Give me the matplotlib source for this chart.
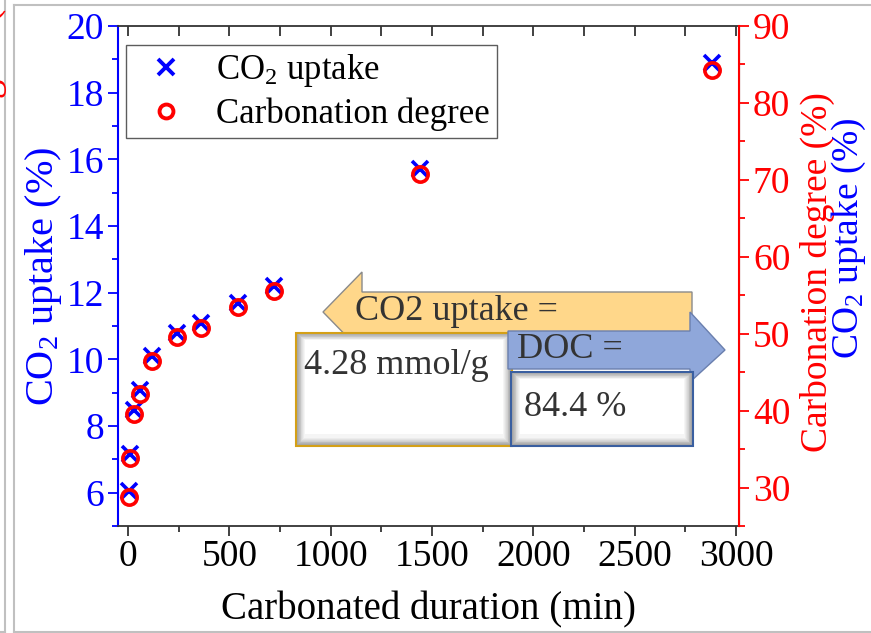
import matplotlib
matplotlib.use("Agg")
import matplotlib.pyplot as plt
from matplotlib.lines import Line2D
from matplotlib.patches import Polygon
import numpy as np

# ---- data ----
duration_min = [5, 10, 30, 60, 120, 240, 360, 540, 720, 1440, 2880]
co2_uptake = [6.05, 7.15, 8.47, 9.07, 10.1, 10.78, 11.08, 11.7, 12.2, 15.7, 18.9]
carb_degree = [28.8, 33.9, 39.6, 42.2, 46.5, 49.6, 50.8, 53.5, 55.6, 70.7, 84.3]

W, H = 871, 633
plt.rcParams['font.family'] = ['Liberation Serif', 'DejaVu Serif']
plt.rcParams['mathtext.fontset'] = 'custom'
plt.rcParams['mathtext.rm'] = 'Liberation Serif'
plt.rcParams['mathtext.it'] = 'Liberation Serif:italic'

fig = plt.figure(figsize=(W / 100, H / 100), dpi=100)
L, R, T, B = 118, 739, 26, 526
ax = fig.add_axes([L / W, 1 - B / H, (R - L) / W, (B - T) / H])
ax2 = ax.twinx()

BLUE = '#0000FF'
RED = '#FF0000'
TFS = 27
LFS = 28
RFS = 27

ax.plot(duration_min, co2_uptake, linestyle='none', marker='x', ms=11, mew=2.6,
        color=BLUE, zorder=3)
ax2.plot(duration_min, carb_degree, linestyle='none', marker='o', ms=11, mew=2.6,
         mfc='none', mec=RED, zorder=4)

ax.set_xlim(-50, 3015)
ax.set_ylim(5, 20)
ax2.set_ylim(25, 90)

ax.set_xticks(np.arange(0, 3001, 500))
ax.set_xticks(np.arange(0, 3001, 250), minor=True)
ax.set_yticks(np.arange(6, 21, 2))
ax.set_yticks(np.arange(5, 21, 1), minor=True)
ax2.set_yticks(np.arange(30, 91, 10))
ax2.set_yticks(np.arange(25, 91, 5), minor=True)

for sp in ['top', 'bottom']:
    ax.spines[sp].set_color('#333333')
    ax.spines[sp].set_linewidth(1.3)
ax.spines['left'].set_color(BLUE)
ax.spines['left'].set_linewidth(1.5)
ax2.spines['right'].set_color(RED)
ax2.spines['right'].set_linewidth(1.5)
ax2.spines['left'].set_visible(False)
ax2.spines['top'].set_visible(False)
ax2.spines['bottom'].set_visible(False)

ax.tick_params(axis='x', which='major', direction='out', length=7, width=1.3,
               colors='#333333', labelsize=TFS, labelcolor='black', top=True, pad=3)
ax.tick_params(axis='x', which='minor', direction='out', length=4, width=1.3,
               colors='#333333', top=True)
ax.tick_params(axis='y', which='major', direction='out', length=7, width=1.3,
               colors=BLUE, labelsize=TFS, pad=3)
ax.tick_params(axis='y', which='minor', direction='out', length=4, width=1.3,
               colors=BLUE)
ax2.tick_params(axis='y', which='major', direction='out', length=7, width=1.3,
                colors=RED, labelsize=TFS, pad=3)
ax2.tick_params(axis='y', which='minor', direction='out', length=4, width=1.3,
                colors=RED)

# top ticks inward
for t in ax.xaxis.get_major_ticks() + ax.xaxis.get_minor_ticks():
    t.tick2line.set_marker(3)  # TICKDOWN
    t.tick2line.set_markersize(7)

ax.set_xlabel('Carbonated duration (min)', fontsize=LFS, labelpad=12)
ax.set_ylabel('CO$_2$ uptake (%)', fontsize=29, color=BLUE, labelpad=2)

# right labels
fig.text(817 / W, 1 - 272 / H, 'Carbonation degree (%)', rotation=90, color=RED,
         fontsize=RFS, ha='center', va='center')
fig.text(849 / W, 1 - 238 / H, 'CO$_2$ uptake (%)', rotation=90, color=BLUE,
         fontsize=RFS, ha='center', va='center')
# clipped left label fragment
fig.text(-12 / W, 1 - 150 / H, 'Carbonation degree (%)', rotation=90, color=RED,
         fontsize=LFS, ha='center', va='center')

# legend
handles = [Line2D([], [], linestyle='none', marker='x', ms=12, mew=2.8, color=BLUE),
           Line2D([], [], linestyle='none', marker='o', ms=10, mew=2.8, mfc='none', mec=RED)]
leg = ax.legend(handles, ['CO$_2$ uptake', 'Carbonation degree'], loc='upper left',
                bbox_to_anchor=((126 - L) / (R - L), 1 - (45 - T) / (B - T)),
                fontsize=25, frameon=True, fancybox=False, edgecolor='#333333',
                borderpad=0.2, handletextpad=0.5, labelspacing=0.25, borderaxespad=0,
                handlelength=1.9)
leg.get_frame().set_linewidth(1.0)
leg.set_zorder(10)


# ---- annotations in pixel coordinates ----
def P(x, y):
    return (x / W, 1 - y / H)


def poly(pts, z, **kw):
    fig.add_artist(Polygon([P(*p) for p in pts], closed=True,
                           transform=fig.transFigure, zorder=z, **kw))


def bevel_box(x0, y0, x1, y1, edge, z):
    n = 10
    for i in range(n):
        g = 0.62 + 0.38 * i / n
        poly([(x0 + i * 0.9, y0 + i * 0.7), (x1 - i * 0.9, y0 + i * 0.7),
              (x1 - i * 0.9, y1 - i * 0.9), (x0 + i * 0.9, y1 - i * 0.9)], z,
             facecolor=(g, g, g), edgecolor='none')
    poly([(x0 + 9, y0 + 7), (x1 - 9, y0 + 7), (x1 - 9, y1 - 12), (x0 + 9, y1 - 12)], z,
         facecolor='white', edgecolor='none')
    poly([(x0, y0), (x1, y0), (x1, y1), (x0, y1)], z + 0.5, facecolor='none',
         edgecolor=edge, linewidth=1.5)


AFS = 26
# orange left arrow
poly([(323, 312), (362, 272), (362, 292), (692, 292), (692, 334), (362, 334), (362, 352)], 19,
     facecolor='#FFD78A', edgecolor='#8a8a8a', linewidth=1.0)
fig.text(*P(355, 312), 'CO2 uptake =', fontsize=AFS, color='#333333', va='center',
         ha='left', zorder=19.5)

# gold box
bevel_box(296, 333, 512, 446, '#D4A017', 20)
fig.text(*P(304, 366), '4.28 mmol/g', fontsize=AFS, color='#333333', va='center',
         ha='left', zorder=21)

# blue right arrow
poly([(508, 331), (690, 331), (690, 312), (725, 350), (690, 382), (690, 369), (508, 369)], 22,
     facecolor='#8FA7DA', edgecolor='#6a7fae', linewidth=1.0)
fig.text(*P(517, 350), 'DOC =', fontsize=AFS, color='#333333', va='center',
         ha='left', zorder=22.5)

# blue box
bevel_box(511, 372, 693, 446, '#3A5FA0', 23)
fig.text(*P(524, 407), '84.4 %', fontsize=AFS, color='#333333', va='center',
         ha='left', zorder=24)

# outer gray frame lines
frame_kw = dict(color='#C0C0C0', linewidth=1.5, transform=fig.transFigure, zorder=0)
fig.add_artist(Line2D([5 / W, 5 / W], [0, 1], **frame_kw))
fig.add_artist(Line2D([0, 5 / W], [1 - 632 / H, 1 - 632 / H], **frame_kw))
fig.add_artist(Line2D([14 / W, 14 / W], [0, 1 - 5 / H], **frame_kw))
fig.add_artist(Line2D([14 / W, 1], [1 - 5 / H, 1 - 5 / H], **frame_kw))
fig.add_artist(Line2D([14 / W, 1], [1 - 632 / H, 1 - 632 / H], **frame_kw))

fig.savefig('out.png', dpi=100)
